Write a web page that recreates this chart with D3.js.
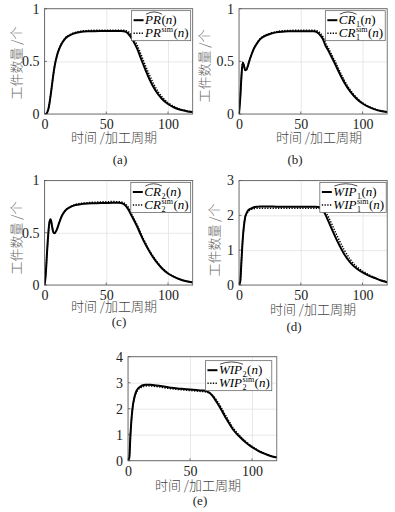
<!DOCTYPE html>
<html>
<head>
<meta charset="utf-8">
<style>
body { margin: 0; background: #fff; }
.grid .tick line { stroke: #e2e2e2; stroke-width: 0.8; }
.curve { fill: none; stroke: #000; }
.serif { font-family: "Liberation Serif", "Times New Roman", serif; }
.cjk { font-family: "Noto Sans CJK SC", sans-serif; font-weight: 300; }
</style>
</head>
<body>
<script src="https://d3js.org/d3.v7.min.js"></script>
<script>

// time axis (processing periods) shared by all five panels
var periods = [0, 1, 2, 3, 4, 5, 6, 7, 8, 10, 12, 14, 16, 18, 20, 25, 30, 35, 40, 45,
               50, 55, 60, 62, 64, 66, 68, 70, 72, 75, 78, 80, 85, 90, 95, 100, 105, 110, 115, 120];

// (a) PR
var prHat = [0, 0, 0.01, 0.04, 0.1, 0.18, 0.27, 0.36, 0.44, 0.55, 0.62, 0.67, 0.705, 0.73, 0.745, 0.77, 0.78, 0.785, 0.787, 0.788,
             0.788, 0.788, 0.788, 0.788, 0.787, 0.78, 0.76, 0.73, 0.69, 0.62, 0.53, 0.47, 0.33, 0.22, 0.145, 0.095, 0.062, 0.04, 0.027, 0.018];
var prSim = [0, 0, 0.01, 0.04, 0.1, 0.18, 0.27, 0.36, 0.44, 0.55, 0.625, 0.675, 0.71, 0.735, 0.75, 0.775, 0.787, 0.792, 0.795, 0.796,
             0.796, 0.796, 0.796, 0.796, 0.795, 0.792, 0.78, 0.755, 0.72, 0.655, 0.57, 0.51, 0.37, 0.25, 0.165, 0.107, 0.07, 0.045, 0.03, 0.02];
// (b) CR1
var cr1Hat = [0, 0.15, 0.36, 0.49, 0.46, 0.415, 0.42, 0.45, 0.49, 0.56, 0.62, 0.66, 0.695, 0.72, 0.735, 0.76, 0.775, 0.782, 0.785, 0.786,
              0.787, 0.787, 0.787, 0.784, 0.77, 0.745, 0.71, 0.65, 0.61, 0.54, 0.47, 0.42, 0.305, 0.215, 0.148, 0.1, 0.067, 0.044, 0.028, 0.018];
var cr1Sim = [0, 0.15, 0.36, 0.49, 0.46, 0.415, 0.42, 0.45, 0.49, 0.56, 0.62, 0.665, 0.7, 0.725, 0.74, 0.767, 0.782, 0.79, 0.793, 0.795,
              0.795, 0.795, 0.795, 0.793, 0.785, 0.765, 0.73, 0.675, 0.635, 0.565, 0.495, 0.445, 0.325, 0.23, 0.158, 0.107, 0.072, 0.047, 0.03, 0.019];
// (c) CR2
var cr2Hat = [0, 0.1, 0.3, 0.48, 0.6, 0.63, 0.57, 0.51, 0.495, 0.53, 0.6, 0.66, 0.7, 0.725, 0.74, 0.765, 0.775, 0.78, 0.782, 0.784,
              0.785, 0.786, 0.786, 0.785, 0.775, 0.755, 0.72, 0.675, 0.63, 0.56, 0.48, 0.43, 0.32, 0.23, 0.16, 0.11, 0.077, 0.052, 0.035, 0.024];
var cr2Sim = [0, 0.1, 0.3, 0.48, 0.6, 0.63, 0.57, 0.51, 0.495, 0.53, 0.6, 0.66, 0.7, 0.727, 0.743, 0.77, 0.782, 0.788, 0.792, 0.795,
              0.797, 0.798, 0.797, 0.795, 0.787, 0.77, 0.74, 0.69, 0.645, 0.575, 0.495, 0.445, 0.33, 0.24, 0.167, 0.115, 0.08, 0.054, 0.036, 0.025];
// (d) WIP1
var wip1Hat = [0, 0.1, 0.7, 1.3, 1.7, 1.95, 2.05, 2.12, 2.16, 2.2, 2.23, 2.245, 2.25, 2.255, 2.255, 2.255, 2.25, 2.25, 2.25, 2.25,
               2.25, 2.25, 2.25, 2.248, 2.24, 2.22, 2.15, 2.02, 1.86, 1.62, 1.38, 1.23, 0.9, 0.65, 0.48, 0.36, 0.27, 0.2, 0.13, 0.08];
var wip1Sim = [0, 0.1, 0.7, 1.3, 1.7, 1.93, 2.03, 2.09, 2.13, 2.17, 2.19, 2.2, 2.205, 2.205, 2.205, 2.205, 2.2, 2.2, 2.2, 2.2,
               2.2, 2.2, 2.2, 2.2, 2.2, 2.195, 2.17, 2.1, 1.98, 1.76, 1.52, 1.37, 1.02, 0.74, 0.54, 0.4, 0.3, 0.21, 0.14, 0.09];
// (e) WIP2
var wip2Hat = [0, 0.1, 1.0, 1.7, 2.15, 2.4, 2.58, 2.7, 2.77, 2.85, 2.9, 2.92, 2.925, 2.92, 2.91, 2.88, 2.84, 2.81, 2.78, 2.76,
               2.74, 2.72, 2.7, 2.69, 2.66, 2.6, 2.5, 2.37, 2.22, 1.98, 1.72, 1.56, 1.18, 0.92, 0.7, 0.52, 0.38, 0.27, 0.18, 0.12];
var wip2Sim = [0, 0.1, 1.0, 1.7, 2.13, 2.37, 2.54, 2.65, 2.72, 2.8, 2.85, 2.87, 2.88, 2.875, 2.865, 2.84, 2.8, 2.77, 2.74, 2.72,
               2.7, 2.68, 2.66, 2.65, 2.63, 2.59, 2.52, 2.42, 2.29, 2.06, 1.8, 1.64, 1.25, 0.97, 0.74, 0.55, 0.4, 0.28, 0.19, 0.13];

// tick labels
var xTicks = [0, 50, 100];
var rateTicks = [0, 0.5, 1];
var wip1Ticks = [0, 1, 2, 3];
var wip2Ticks = [0, 1, 2, 3, 4];

var yTitle = "工件数量 /个";
var xTitle = "时间 /加工周期";

// panel layout
var panels = [
  {cap: "(a)", hat: prHat, sim: prSim, base: "PR", sub: "", yMax: 1, ticks: rateTicks,
   left: 44.5, top: 8.7, right: 192.7, bottom: 114, yt: [16, 63], xt: [114, 142], cp: [120, 163.5], lr: 2, lt: 2},
  {cap: "(b)", hat: cr1Hat, sim: cr1Sim, base: "CR", sub: "1", yMax: 1, ticks: rateTicks,
   left: 239, top: 8.7, right: 387.2, bottom: 114, yt: [204.5, 66], xt: [319, 142], cp: [295, 163.5], lr: 2, lt: 2},
  {cap: "(c)", hat: cr2Hat, sim: cr2Sim, base: "CR", sub: "2", yMax: 1, ticks: rateTicks,
   left: 44.5, top: 180.5, right: 192.7, bottom: 285, yt: [16, 238], xt: [114, 311], cp: [119, 326], lr: 2, lt: 2},
  {cap: "(d)", hat: wip1Hat, sim: wip1Sim, base: "WIP", sub: "1", yMax: 3, ticks: wip1Ticks,
   left: 239, top: 180.5, right: 387.2, bottom: 285, yt: [214, 240], xt: [313, 314], cp: [294, 331], lr: 1, lt: 2},
  {cap: "(e)", hat: wip2Hat, sim: wip2Sim, base: "WIP", sub: "2", yMax: 4, ticks: wip2Ticks,
   left: 128, top: 356.7, right: 276.8, bottom: 460.7, yt: null, xt: [198, 490], cp: [200, 505], lr: 5, lt: 4}
];

var svg = d3.select("body").append("svg")
    .attr("width", 395)
    .attr("height", 512);

panels.forEach(function(p, i) {
  var w = p.right - p.left, h = p.bottom - p.top;
  var x = d3.scaleLinear().domain([0, 120]).range([0, w]);
  var y = d3.scaleLinear().domain([0, p.yMax]).range([h, 0]);

  var g = svg.append("g").attr("transform", "translate(" + p.left + "," + p.top + ")");

  // grid + tick labels
  var gx = g.append("g").attr("class", "grid")
      .attr("transform", "translate(0," + h + ")")
      .call(d3.axisBottom(x).tickValues(xTicks).tickSizeInner(-h).tickSizeOuter(0).tickPadding(5));
  var gy = g.append("g").attr("class", "grid")
      .call(d3.axisLeft(y).tickValues(p.ticks).tickSizeInner(-w).tickSizeOuter(0).tickPadding(5)
        .tickFormat(function(d) { return d; }));
  [gx, gy].forEach(function(a) {
    a.attr("font-family", null).attr("font-size", null);
    a.select(".domain").remove();
    a.selectAll("text").attr("class", "serif").style("font-size", "14px").attr("fill", "#222");
  });

  // small inside ticks like matlab
  g.selectAll(".xt").data(xTicks).enter().append("line")
    .attr("x1", function(d) { return x(d); }).attr("x2", function(d) { return x(d); })
    .attr("y1", h).attr("y2", h - 2.5).attr("stroke", "#444").attr("stroke-width", 0.7);
  g.selectAll(".yt").data(p.ticks).enter().append("line")
    .attr("y1", function(d) { return y(d); }).attr("y2", function(d) { return y(d); })
    .attr("x1", 0).attr("x2", 2.5).attr("stroke", "#444").attr("stroke-width", 0.7);

  // clip
  svg.append("clipPath").attr("id", "clip" + i)
    .append("rect").attr("width", w).attr("height", h);

  var line = d3.line()
      .x(function(d, k) { return x(periods[k]); })
      .y(function(d) { return y(d); })
      .curve(d3.curveMonotoneX);

  g.append("path").datum(p.sim).attr("class", "curve")
    .attr("clip-path", "url(#clip" + i + ")")
    .attr("stroke-width", 1.5).attr("stroke-dasharray", "1.3,1.4")
    .attr("d", line);
  g.append("path").datum(p.hat).attr("class", "curve")
    .attr("clip-path", "url(#clip" + i + ")")
    .attr("stroke-width", 2)
    .attr("d", line);

  // box
  g.append("rect").attr("width", w).attr("height", h)
    .attr("fill", "none").attr("stroke", "#555").attr("stroke-width", 0.8);

  // axis titles
  if (p.yt) {
    svg.append("text").attr("class", "cjk")
      .attr("transform", "translate(" + p.yt[0] + "," + p.yt[1] + ") rotate(-90)")
      .attr("dy", "0.35em")
      .attr("text-anchor", "middle")
      .style("font-size", "13px").attr("fill", "#666")
      .text(yTitle);
  }
  svg.append("text").attr("class", "cjk")
    .attr("x", p.xt[0]).attr("y", p.xt[1])
    .attr("text-anchor", "middle")
    .style("font-size", "13px").attr("fill", "#444")
    .text(xTitle);
  svg.append("text").attr("class", "serif")
    .attr("x", p.cp[0]).attr("y", p.cp[1])
    .attr("text-anchor", "middle")
    .style("font-size", "13px").attr("fill", "#222")
    .text(p.cap);

  // legend
  var lg = g.append("g").attr("class", "serif");
  var box = lg.append("rect").attr("fill", "#fff").attr("stroke", "#555").attr("stroke-width", 0.7);
  var rows = [{sim: false, dash: null, sw: 2}, {sim: true, dash: "1.3,1.4", sw: 1.5}];
  var maxW = 0;
  rows.forEach(function(r, k) {
    var by = 13.5 + k * 13;
    var ln = lg.append("line").attr("x1", 2).attr("x2", 12)
      .attr("y1", by - 4).attr("y2", by - 4)
      .attr("stroke", "#000").attr("stroke-width", r.sw);
    if (r.dash) ln.attr("stroke-dasharray", r.dash);
    var cx = 13.5;
    var t = lg.append("text").attr("x", cx).attr("y", by)
      .style("font-size", "13px").style("font-style", "italic")
      .text(p.base);
    var bw = t.node().getComputedTextLength();
    if (!r.sim) {
      lg.append("path")
        .attr("d", "M" + (cx + 1) + "," + (by - 10) + " Q" + (cx + bw / 2 + 1) + "," + (by - 14.5) + " " + (cx + bw + 1) + "," + (by - 10))
        .attr("fill", "none").attr("stroke", "#000").attr("stroke-width", 0.7);
    }
    cx += bw + 0.5;
    var adv = 0;
    if (p.sub) {
      var s = lg.append("text").attr("x", cx).attr("y", by + 3)
        .style("font-size", "8px").text(p.sub);
      adv = s.node().getComputedTextLength();
    }
    if (r.sim) {
      var su = lg.append("text").attr("x", cx).attr("y", by - 5.5)
        .style("font-size", "8px").text("sim");
      adv = Math.max(adv, su.node().getComputedTextLength());
    }
    cx += adv + (adv ? 0.5 : 0);
    var tn = lg.append("text").attr("x", cx).attr("y", by)
      .style("font-size", "13px");
    tn.append("tspan").text("(");
    tn.append("tspan").style("font-style", "italic").text("n");
    tn.append("tspan").text(")");
    cx += tn.node().getComputedTextLength();
    maxW = Math.max(maxW, cx + 2);
  });
  box.attr("width", maxW).attr("height", 30);
  lg.attr("transform", "translate(" + (w - p.lr - maxW) + "," + p.lt + ")");
});

</script>
</body>
</html>
